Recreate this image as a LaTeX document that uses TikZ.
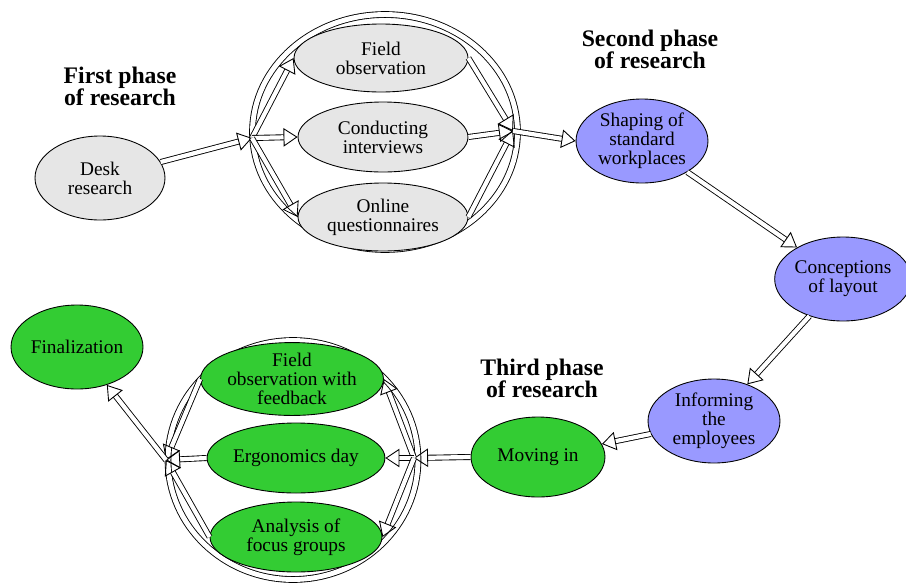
\documentclass[tikz,border=0pt]{standalone}
\usepackage{fontspec}
\setmainfont{Liberation Serif}
\usetikzlibrary{arrows.meta,shapes.geometric}
\definecolor{deskgray}{HTML}{E6E6E6}
\definecolor{planblue}{HTML}{9999FF}
\definecolor{movegreen}{HTML}{33CC33}

\begin{document}
\begin{tikzpicture}[x=0.02cm, y=-0.02cm,
    phase/.style={ellipse, draw, line width=0.5pt, align=center, inner sep=0pt,
      font=\fontsize{11}{10.8}\selectfont},
    desk/.style={phase, fill=deskgray},
    plan/.style={phase, fill=planblue},
    move/.style={phase, fill=movegreen},
    ring/.style={ellipse, draw, double, double distance=2.8pt, line width=0.5pt},
    title/.style={align=center, font=\fontsize{13.5}{12.5}\selectfont\bfseries},
    flow/.style={draw, double, double distance=2.4pt, line width=0.5pt,
      -{Triangle[open, length=8pt, width=10.5pt]}}]
  \useasboundingbox (0,0) rectangle (906,582);
  % Phase headings.
  \node[title] (first) at (120,86) {First phase\\of research};
  \node[title] (second) at (650,49) {Second phase\\of research};
  \node[title] (third) at (542,378) {Third phase\\of research};
  % First phase: desk research, then three parallel methods.
  \node[desk, minimum width=2.6cm, minimum height=1.68cm] (deskres) at (100,178) {Desk\\research};
  \node[ring, minimum width=5.3cm, minimum height=4.7cm] (ring1) at (385,132) {};
  \node[desk, minimum width=3.48cm, minimum height=1.36cm] (fieldobs) at (381,58) {Field\\observation};
  \node[desk, minimum width=3.4cm, minimum height=1.4cm] (interv) at (383,137) {Conducting\\interviews};
  \node[desk, minimum width=3.4cm, minimum height=1.36cm] (online) at (383,217) {Online\\questionnaires};
  \coordinate (in1) at (252,138);
  \coordinate (out1) at (513,131);
  % Second phase: planning of the workplaces (blue).
  \node[plan, minimum width=2.64cm, minimum height=1.68cm] (shaping) at (642,141) {Shaping of\\standard\\workplaces};
  \node[plan, minimum width=2.56cm, minimum height=1.68cm] (layout) at (843,279) {Conceptions\\of layout};
  \node[plan, minimum width=2.64cm, minimum height=1.68cm] (inform) at (714,421) {Informing\\the\\employees};
  % Third phase: moving in and the follow-up (green).
  \node[move, minimum width=2.68cm, minimum height=1.6cm] (movein) at (538,457) {Moving in};
  \node[ring, minimum width=5.0cm, minimum height=4.78cm] (ring2) at (293,460) {};
  \node[move, minimum width=3.52cm, minimum height=1.36cm] (feedback) at (292,379) {Field\\observation with\\feedback};
  \node[move, minimum width=3.44cm, minimum height=1.4cm] (ergo) at (296,458) {Ergonomics day};
  \node[move, minimum width=3.44cm, minimum height=1.4cm] (focus) at (296,537) {Analysis of\\focus groups};
  \node[move, minimum width=2.64cm, minimum height=1.68cm] (final) at (77,347) {Finalization};
  \coordinate (in2) at (414,458);
  \coordinate (out2) at (166,460);
  % Connectors of the first phase.
  \draw[flow] (deskres) -- (in1);
  \draw[flow] (in1) -- (fieldobs.west);
  \draw[flow] (in1) -- (interv.west);
  \draw[flow] (in1) -- (online.west);
  \draw[flow] (fieldobs.east) -- (out1);
  \draw[flow] (interv.east) -- (out1);
  \draw[flow] (online.east) -- (out1);
  \draw[flow] (out1) -- (shaping.west);
  % Connectors of the second phase.
  \draw[flow] (shaping) -- (layout);
  \draw[flow] (layout) -- (inform);
  \draw[flow] (inform) -- (movein);
  % Connectors of the third phase.
  \draw[flow] (movein.west) -- (in2);
  \draw[flow] (in2) -- (feedback.east);
  \draw[flow] (in2) -- (ergo.east);
  \draw[flow] (in2) -- (focus.east);
  \draw[flow] (feedback.west) -- (out2);
  \draw[flow] (ergo.west) -- (out2);
  \draw[flow] (focus.west) -- (out2);
  \draw[flow] (out2) -- (final);
\end{tikzpicture}
\end{document}
